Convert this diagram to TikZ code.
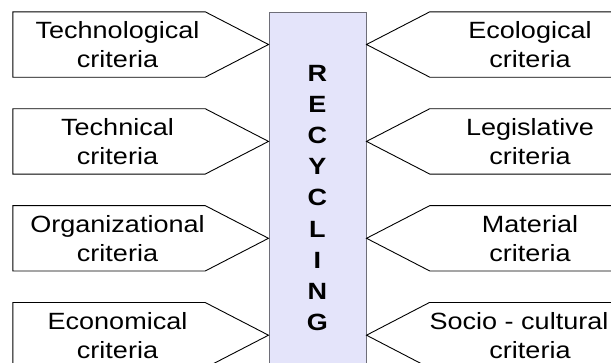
\documentclass[tikz,border=0pt]{standalone}
\usepackage{fontspec}
\setmainfont{Liberation Sans}[FakeStretch=1.15]
\usetikzlibrary{positioning}
\definecolor{boxfill}{RGB}{228,228,250}
\definecolor{boxline}{RGB}{110,110,120}

\begin{document}
\begin{tikzpicture}[x=1pt, y=-1pt,
        node distance=31.5pt,
        crit/.style={rectangle, minimum height=65pt, inner sep=0pt, align=center, font=\fontsize{23.5}{29}\selectfont},
        lcrit/.style={crit, minimum width=209pt},
        rcrit/.style={crit, minimum width=200pt},
        outline/.style={draw=black, line width=0.9pt, line join=miter},
        mainbox/.style={rectangle, draw=boxline, fill=boxfill, line width=1pt, minimum width=97pt, minimum height=372pt, inner sep=0pt, align=center, font=\fontsize{23.5}{31.2}\selectfont\bfseries}
    ]
        \clip (0,0) rectangle (611,362);

        \node[mainbox] (rec) at (317.5,198) {R\\E\\C\\Y\\C\\L\\I\\N\\G};

        \node[lcrit] (techno) at (117.5,44.5) {Technological\\criteria};
        \node[lcrit, below=of techno] (techni) {Technical\\criteria};
        \node[lcrit, below=of techni] (organ) {Organizational\\criteria};
        \node[lcrit, below=of organ] (econ) {Economical\\criteria};

        \node[rcrit] (ecol) at (530,44.5) {Ecological\\criteria};
        \node[rcrit, below=of ecol] (legis) {Legislative\\criteria};
        \node[rcrit, below=of legis] (mater) {Material\\criteria};
        \node[rcrit, below=of mater] (socio) {Socio - cultural\hspace*{22pt}\\criteria};

        \draw[outline] (techno.north west) -- ([xshift=-17pt]techno.north east) -- (rec.west |- techno) -- ([xshift=-17pt]techno.south east) -- (techno.south west) -- cycle;
        \draw[outline] (techni.north west) -- ([xshift=-17pt]techni.north east) -- (rec.west |- techni) -- ([xshift=-17pt]techni.south east) -- (techni.south west) -- cycle;
        \draw[outline] (organ.north west) -- ([xshift=-17pt]organ.north east) -- (rec.west |- organ) -- ([xshift=-17pt]organ.south east) -- (organ.south west) -- cycle;
        \draw[outline] (econ.north west) -- ([xshift=-17pt]econ.north east) -- (rec.west |- econ) -- ([xshift=-17pt]econ.south east) -- (econ.south west) -- cycle;

        \draw[outline] (ecol.north east) -- (ecol.north west) -- (rec.east |- ecol) -- (ecol.south west) -- (ecol.south east) -- cycle;
        \draw[outline] (legis.north east) -- (legis.north west) -- (rec.east |- legis) -- (legis.south west) -- (legis.south east) -- cycle;
        \draw[outline] (mater.north east) -- (mater.north west) -- (rec.east |- mater) -- (mater.south west) -- (mater.south east) -- cycle;
        \draw[outline] (socio.north east) -- (socio.north west) -- (rec.east |- socio) -- (socio.south west) -- (socio.south east) -- cycle;
    \end{tikzpicture}
\end{document}
